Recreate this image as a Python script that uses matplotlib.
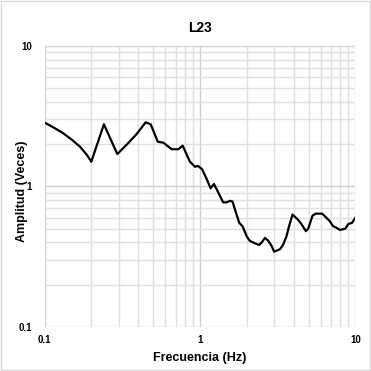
import matplotlib.pyplot as plt
from matplotlib.patches import Rectangle
from matplotlib.ticker import LogLocator, FixedLocator, FixedFormatter, NullFormatter

plt.rcParams['font.family'] = ['Liberation Sans', 'DejaVu Sans']

# Datos
freq = [0.1, 0.115, 0.132, 0.15, 0.169, 0.187, 0.2, 0.241, 0.294, 0.34, 0.39,
        0.447, 0.482, 0.535, 0.581, 0.658, 0.725, 0.774, 0.862, 0.929, 0.97,
        1.03, 1.10, 1.17, 1.23, 1.29, 1.41, 1.48, 1.56, 1.62, 1.72, 1.79, 1.88,
        2.0, 2.09, 2.25, 2.40, 2.50, 2.62, 2.75, 2.89, 3.0, 3.27, 3.42, 3.6,
        3.74, 3.94, 4.27, 4.49, 4.8, 4.97, 5.3, 5.55, 6.1, 6.3, 6.8, 7.2, 7.5,
        7.95, 8.6, 9.0, 9.5, 10.0]
amp = [2.85, 2.62, 2.39, 2.15, 1.92, 1.68, 1.50, 2.77, 1.70, 2.0, 2.35,
       2.86, 2.77, 2.08, 2.05, 1.84, 1.84, 1.95, 1.50, 1.38, 1.40,
       1.33, 1.14, 0.97, 1.04, 0.94, 0.77, 0.77, 0.79, 0.78, 0.63, 0.55, 0.52,
       0.44, 0.41, 0.394, 0.383, 0.40, 0.43, 0.41, 0.377, 0.343, 0.357, 0.383, 0.44,
       0.52, 0.63, 0.58, 0.54, 0.48, 0.50, 0.62, 0.64, 0.64, 0.62, 0.57, 0.52, 0.51,
       0.49, 0.50, 0.54, 0.55, 0.60]

ticks = [0.1, 1, 10]
tick_labels = ['0.1', '1', '10']

fig = plt.figure(figsize=(3.71, 3.71), dpi=100)
ax = fig.add_axes([0.12, 0.119, 0.838, 0.757])

ax.plot(freq, amp, color='black', lw=1.6)
ax.set_xscale('log')
ax.set_yscale('log')
ax.set_xlim(0.1, 10)
ax.set_ylim(0.1, 10)

for axis in (ax.xaxis, ax.yaxis):
    axis.set_major_locator(FixedLocator(ticks))
    axis.set_major_formatter(FixedFormatter(tick_labels))
    axis.set_minor_locator(LogLocator(base=10, subs=range(2, 10)))
    axis.set_minor_formatter(NullFormatter())

ax.grid(True, which='major', color='#cfcfcf', lw=1.0)
ax.grid(True, which='minor', color='#e0e0e0', lw=1.0)
ax.tick_params(which='both', length=0, labelsize=7)
ax.tick_params(axis='x', pad=6)
ax.tick_params(axis='y', pad=9)
for lbl in ax.get_xticklabels() + ax.get_yticklabels():
    lbl.set_fontweight('bold')
for s in ax.spines.values():
    s.set_visible(False)

ax.set_title('L23', fontsize=10, fontweight='bold', pad=10)
ax.set_xlabel('Frecuencia (Hz)', fontsize=9, fontweight='bold', labelpad=5)
ax.set_ylabel('Amplitud (Veces)', fontsize=9, fontweight='bold')
ax.yaxis.set_label_coords(-0.053, 0.482)

fig.patches.append(Rectangle((0.002, 0.002), 0.996, 0.996, transform=fig.transFigure,
                             fill=False, edgecolor='#d9d9d9', lw=1))

fig.savefig('out.png', dpi=100)
